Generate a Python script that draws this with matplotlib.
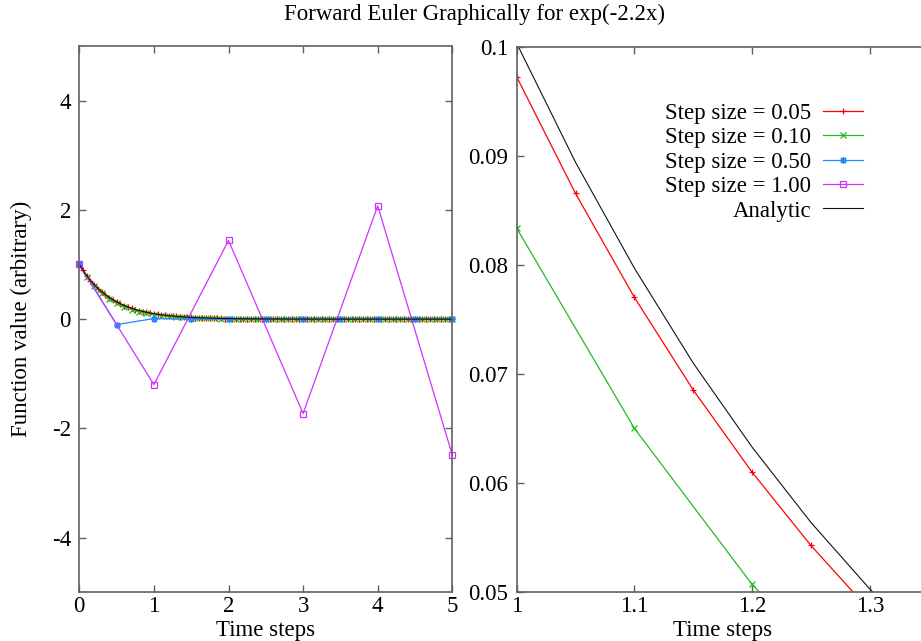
import numpy as np
import matplotlib
matplotlib.use("Agg")
import matplotlib.pyplot as plt

plt.rcParams['font.family'] = ['Liberation Serif', 'DejaVu Serif']
plt.rcParams['axes.unicode_minus'] = False

# forward Euler solutions for y' = -2.2y, y(0) = 1, one list per step size
y005 = [1.0, 0.89, 0.7921, 0.70497, 0.62742, 0.55841, 0.49698, 0.44231, 0.39366, 0.35036,
        0.31182, 0.27752, 0.24699, 0.21982, 0.19564, 0.17412, 0.15497, 0.13792, 0.12275, 0.10925,
        0.09723, 0.08654, 0.07702, 0.06854, 0.06100, 0.05429, 0.04832, 0.04301, 0.03828, 0.03407,
        0.03032, 0.02698, 0.02402, 0.02137, 0.01902, 0.01693, 0.01507, 0.01341, 0.01194, 0.01062,
        0.00945, 0.00841, 0.00749, 0.00667, 0.00593, 0.00528, 0.00470, 0.00418, 0.00372, 0.00331,
        0.00295, 0.00262, 0.00234, 0.00208, 0.00185, 0.00165, 0.00147, 0.00130, 0.00116, 0.00103,
        0.00092, 0.00082, 0.00073, 0.00065, 0.00058, 0.00051, 0.00046, 0.00041, 0.00036, 0.00032,
        0.00029, 0.00026, 0.00023, 0.00020, 0.00018, 0.00016, 0.00014, 0.00013, 0.00011, 0.00010,
        0.00009, 0.00008, 0.00007, 0.00006, 0.00006, 0.00005, 0.00004, 0.00004, 0.00004, 0.00003,
        0.00003, 0.00003, 0.00002, 0.00002, 0.00002, 0.00002, 0.00002, 0.00001, 0.00001, 0.00001,
        0.00001]
y010 = [1.0, 0.78, 0.6084, 0.47455, 0.37015, 0.28872, 0.22520, 0.17566, 0.13701, 0.10687,
        0.08336, 0.06502, 0.05072, 0.03956, 0.03086, 0.02407, 0.01877, 0.01464, 0.01142, 0.00891,
        0.00695, 0.00542, 0.00423, 0.00330, 0.00257, 0.00201, 0.00156, 0.00122, 0.00095, 0.00074,
        0.00058, 0.00045, 0.00035, 0.00027, 0.00021, 0.00017, 0.00013, 0.00010, 0.00008, 0.00006,
        0.00005, 0.00004, 0.00003, 0.00002, 0.00002, 0.00001, 0.00001, 0.00001, 0.00001, 0.00001,
        0.0]
y050 = [1.0, -0.1, 0.01, -0.001, 0.0001, -0.00001, 0.000001, -1e-7, 1e-8, -1e-9, 1e-10]
y100 = [1.0, -1.2, 1.44, -1.728, 2.0736, -2.48832]

# analytic curve as tabulated on the 0.05 grid
yExact = [1.0, 0.8914, 0.7945, 0.7082, 0.6313, 0.5627, 0.5016, 0.4471, 0.3985, 0.3552,
          0.3166, 0.2822, 0.2516, 0.2242, 0.1999, 0.1782, 0.1588, 0.1416, 0.1262, 0.1125,
          0.1003, 0.0894, 0.0797, 0.0710, 0.0633, 0.0564, 0.0503, 0.0448, 0.0400, 0.0356,
          0.0317, 0.0283, 0.0252, 0.0225, 0.0200, 0.0179, 0.0159, 0.0142, 0.0127, 0.0113,
          0.0101, 0.0090, 0.0080, 0.0071, 0.0063, 0.0056, 0.0050, 0.0045, 0.0040, 0.0036,
          0.0032, 0.0028, 0.0025, 0.0023, 0.0020, 0.0018, 0.0016, 0.0014, 0.0013, 0.0011,
          0.0010, 0.0009, 0.0008, 0.0007, 0.0006, 0.0006, 0.0005, 0.0004, 0.0004, 0.0004,
          0.0003, 0.0003, 0.0003, 0.0002, 0.0002, 0.0002, 0.0002, 0.0002, 0.0001, 0.0001,
          0.0001, 0.0001, 0.0001, 0.0001, 0.0001, 0.0001, 0.0001, 0.0001, 0.0001, 0.0001,
          0.0001, 0.0001, 0.0001, 0.0, 0.0, 0.0, 0.0, 0.0, 0.0, 0.0,
          0.0]

t005 = np.linspace(0, 5, len(y005))
t010 = np.linspace(0, 5, len(y010))
t050 = np.linspace(0, 5, len(y050))
t100 = np.linspace(0, 5, len(y100))
tExact = np.linspace(0, 5, len(yExact))

# gnuplot-like point types: plus, cross, star (plus + cross), open square
series = [
    (t005, y005, '#ff0000', '+', 'Step size = 0.05'),
    (t010, y010, '#22bb22', 'x', 'Step size = 0.10'),
    (t050, y050, '#2288ff', (8, 2, 0), 'Step size = 0.50'),
    (t100, y100, '#cc33ff', 's', 'Step size = 1.00'),
]

fs = 16.5
axColor = '#606060'

fig = plt.figure(figsize=(9.21, 6.41), dpi=100)
axL = fig.add_axes([0.0861, 0.0760, 0.405, 0.8523])
axR = fig.add_axes([0.5610, 0.0760, 0.4473, 0.8513])

for ax, clip in [(axL, False), (axR, True)]:
    for t, y, c, m, lab in series:
        ax.plot(t, y, color=c, lw=0.9, marker=m, ms=5, mew=0.9,
                mfc='none', label=lab, clip_on=clip)
    ax.plot(tExact, yExact, color='#111111', lw=0.8, label='Analytic', clip_on=clip)
    for s in ax.spines.values():
        s.set_color(axColor)
        s.set_linewidth(1.2)
    ax.tick_params(direction='in', top=True, right=True, length=5, width=1,
                   color=axColor, labelsize=fs, pad=6)
    ax.tick_params(axis='x', pad=3)
    ax.set_xlabel('Time steps', fontsize=fs, labelpad=2)

axL.set_xlim(0, 5)
axL.set_ylim(-5, 5)
axL.set_xticks([0, 1, 2, 3, 4, 5])
axL.set_yticks([-4, -2, 0, 2, 4])
axL.set_ylabel('Function value (arbitrary)', fontsize=fs, labelpad=14)

axR.set_xlim(1, 1.35)
axR.set_ylim(0.05, 0.1)
axR.set_xticks([1, 1.1, 1.2, 1.3])
axR.set_xticklabels(['1', '1.1', '1.2', '1.3'])
axR.set_yticks([0.05, 0.06, 0.07, 0.08, 0.09, 0.1])
axR.set_yticklabels(['0.05', '0.06', '0.07', '0.08', '0.09', '0.1'])

leg = axR.legend(loc='upper right', bbox_to_anchor=(0.937, 0.840),
                 bbox_transform=fig.transFigure, frameon=False, fontsize=fs,
                 markerfirst=False, numpoints=1, handlelength=1.75,
                 handletextpad=0.5, labelspacing=0.15, borderpad=0, borderaxespad=0)

fig.text(0.515, 0.977, 'Forward Euler Graphically for exp(-2.2x)', ha='center',
         va='center', fontsize=fs)

fig.savefig('out.png', dpi=100)
